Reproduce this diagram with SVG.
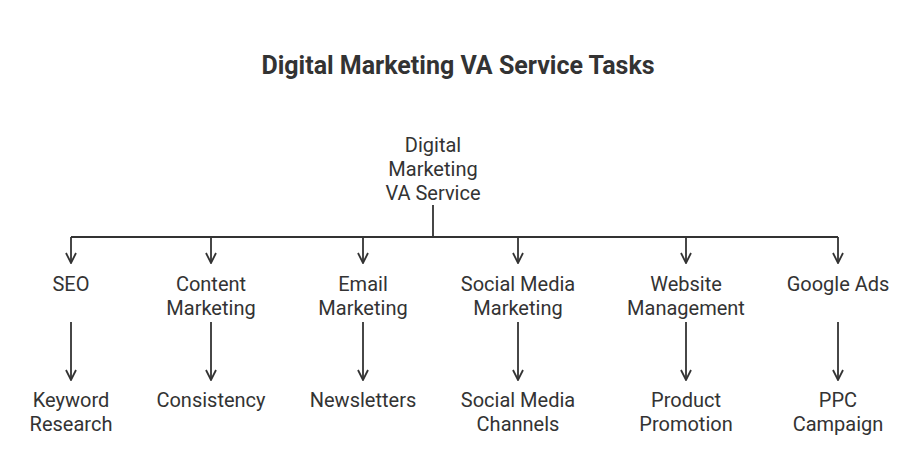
<svg xmlns="http://www.w3.org/2000/svg" width="916" height="463" viewBox="0 0 916 463">
<style>
text{font-family:Roboto,"Liberation Sans",sans-serif;fill:#333;font-size:20px;text-anchor:middle}
.t{font-size:25px;font-weight:bold}
.c{stroke:#333;stroke-width:1.8;fill:none}
</style>
<defs><marker id="a" viewBox="0 0 12 12" refX="11" refY="6" markerWidth="12" markerHeight="12" markerUnits="userSpaceOnUse" orient="auto"><path d="M1,1 L11,6 L1,11" fill="none" stroke="#333" stroke-width="1.8"/></marker></defs>
<rect width="916" height="463" fill="#fff"/>
<text class="t" x="458" y="74">Digital Marketing VA Service Tasks</text>
<g id="connectors" class="c">
<path d="M433,205 V237 M71,237 H838"/>
<path d="M71,237 V263" marker-end="url(#a)"/>
<path d="M211,237 V263" marker-end="url(#a)"/>
<path d="M363,237 V263" marker-end="url(#a)"/>
<path d="M518,237 V263" marker-end="url(#a)"/>
<path d="M686,237 V263" marker-end="url(#a)"/>
<path d="M838,237 V263" marker-end="url(#a)"/>
<path d="M71,322 V380" marker-end="url(#a)"/>
<path d="M211,322 V380" marker-end="url(#a)"/>
<path d="M363,322 V380" marker-end="url(#a)"/>
<path d="M518,322 V380" marker-end="url(#a)"/>
<path d="M686,322 V380" marker-end="url(#a)"/>
<path d="M838,322 V380" marker-end="url(#a)"/>
</g>
<g id="root"><text x="433" y="152">Digital</text><text x="433" y="176">Marketing</text><text x="433" y="200">VA Service</text></g>
<g id="seo"><text x="71" y="291">SEO</text></g>
<g id="content"><text x="211" y="291">Content</text><text x="211" y="315">Marketing</text></g>
<g id="email"><text x="363" y="291">Email</text><text x="363" y="315">Marketing</text></g>
<g id="social"><text x="518" y="291">Social Media</text><text x="518" y="315">Marketing</text></g>
<g id="website"><text x="686" y="291">Website</text><text x="686" y="315">Management</text></g>
<g id="google"><text x="838" y="291">Google Ads</text></g>
<g id="keyword"><text x="71" y="407">Keyword</text><text x="71" y="431">Research</text></g>
<g id="consistency"><text x="211" y="407">Consistency</text></g>
<g id="newsletters"><text x="363" y="407">Newsletters</text></g>
<g id="channels"><text x="518" y="407">Social Media</text><text x="518" y="431">Channels</text></g>
<g id="product"><text x="686" y="407">Product</text><text x="686" y="431">Promotion</text></g>
<g id="ppc"><text x="838" y="407">PPC</text><text x="838" y="431">Campaign</text></g>
</svg>
